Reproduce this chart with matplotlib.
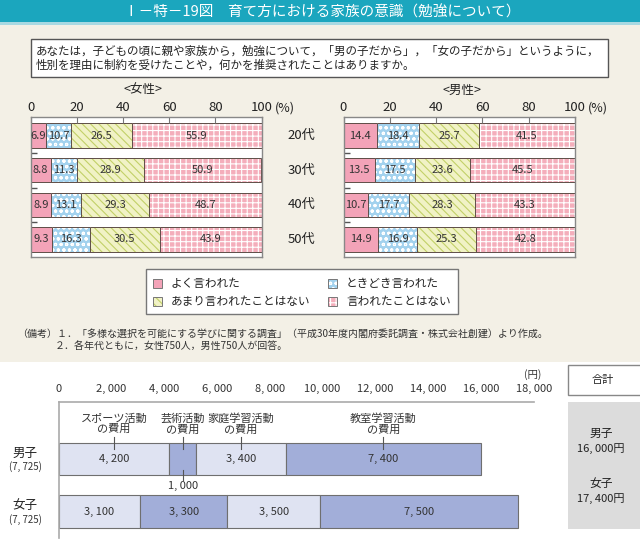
import numpy as np
import matplotlib
matplotlib.use("Agg")
import matplotlib.pyplot as plt
from matplotlib.patches import Rectangle

plt.rcParams['font.family'] = ['Noto Sans CJK JP', 'DejaVu Sans']
plt.rcParams['hatch.linewidth'] = 0.8

# ---- data ----
ages = ['20代', '30代', '40代', '50代']
answers = ['よく言われた', 'ときどき言われた', 'あまり言われたことはない', '言われたことはない']
female_often = [6.9, 8.8, 8.9, 9.3]
female_some = [10.7, 11.3, 13.1, 16.3]
female_rarely = [26.5, 28.9, 29.3, 30.5]
female_never = [55.9, 50.9, 48.7, 43.9]
male_often = [14.4, 13.5, 10.7, 14.9]
male_some = [18.4, 17.5, 17.7, 16.9]
male_rarely = [25.7, 23.6, 28.3, 25.3]
male_never = [41.5, 45.5, 43.3, 42.8]
pct_ticks = [0, 20, 40, 60, 80, 100]

kids = ['男子', '女子']
kids_n = ['(7, 725)', '(7, 725)']
cost_items = ['スポーツ活動\nの費用', '芸術活動\nの費用', '家庭学習活動\nの費用', '教室学習活動\nの費用']
boys_cost = [4200, 1000, 3400, 7400]
girls_cost = [3100, 3300, 3500, 7500]
yen_ticks = [0, 2000, 4000, 6000, 8000, 10000, 12000, 14000, 16000, 18000]

W, H = 640, 550
fig = plt.figure(figsize=(6.4, 5.5), dpi=100)
fig.patch.set_facecolor('white')


def px_axes(x0, y0, x1, y1):
    return fig.add_axes([x0 / W, 1 - y1 / H, (x1 - x0) / W, (y1 - y0) / H])


# background layer in pixel coordinates
bg = fig.add_axes([0, 0, 1, 1])
bg.set_xlim(0, W)
bg.set_ylim(H, 0)
bg.axis('off')
bg.add_patch(Rectangle((0, 22), W, 340, facecolor='#f3f0e6', edgecolor='none'))
bg.add_patch(Rectangle((0, 0), W, 22, facecolor='#1ba6be', edgecolor='none'))
bg.add_patch(Rectangle((0, 22), W, 3, facecolor='#a8d9e2', edgecolor='none'))
bg.text(322, 12, 'Ⅰ－特－19図　育て方における家族の意識（勉強について）',
        color='white', fontsize=10.5, ha='center', va='center')

bg.add_patch(Rectangle((31, 39), 577, 38, facecolor='white', edgecolor='#555555', linewidth=1))
bg.text(36, 51.5, 'あなたは，子どもの頃に親や家族から，勉強について，「男の子だから」，「女の子だから」というように，',
        fontsize=8.3, va='center', color='#222222')
bg.text(36, 65.5, '性別を理由に制約を受けたことや，何かを推奨されたことはありますか。',
        fontsize=8.3, va='center', color='#222222')

bg.text(143, 90, '<女性>', fontsize=9, ha='center', va='center', color='#222222')
bg.text(462, 90, '<男性>', fontsize=9, ha='center', va='center', color='#222222')
bg.text(285, 108, '(%)', fontsize=9, ha='center', va='center', color='#222222')
bg.text(598, 108, '(%)', fontsize=9, ha='center', va='center', color='#222222')

styles = [
    dict(face='#f3a3b8', hatch=None, hc='#f3a3b8'),
    dict(face='#a3d2ee', hatch='ooo', hc='white'),
    dict(face='#f1f2c6', hatch='\\\\\\\\', hc='#c2d068'),
    dict(face='#f4aebb', hatch='+++', hc='white'),
]
edge = '#5e4d47'


def draw_pct(ax, series):
    y = np.arange(len(ages))
    left = np.zeros(len(ages))
    for vals, st in zip(series, styles):
        vals = np.array(vals)
        ax.barh(y, vals, left=left, height=0.7, color=st['face'], hatch=st['hatch'],
                edgecolor=st['hc'], linewidth=0)
        ax.barh(y, vals, left=left, height=0.7, color='none', edgecolor=edge, linewidth=0.7)
        for yi, v, l in zip(y, vals, left):
            ax.text(l + v / 2, yi, f'{v:.1f}', ha='center', va='center', fontsize=8, color='#333333')
        left += vals
    ax.set_xlim(0, 100)
    ax.set_ylim(3.507, -0.536)
    ax.xaxis.tick_top()
    ax.set_xticks(pct_ticks)
    ax.set_xticklabels([str(t) for t in pct_ticks])
    ax.tick_params(axis='x', direction='in', length=4, color='#777777', labelsize=9.5, pad=2,
                   labelcolor='#222222')
    ax.set_yticks([0.5, 1.5, 2.5])
    ax.set_yticklabels([])
    ax.tick_params(axis='y', direction='in', length=4, color='#555555', width=1)
    for s in ax.spines.values():
        s.set_color('#888888')
        s.set_linewidth(1)


ax_f = px_axes(30.5, 117, 261.5, 257)
draw_pct(ax_f, [female_often, female_some, female_rarely, female_never])
ax_m = px_axes(343.5, 117, 575, 257)
draw_pct(ax_m, [male_often, male_some, male_rarely, male_never])
for i, a in enumerate(ages):
    ax_f.annotate(a, xy=(1, i), xycoords=('axes fraction', 'data'), xytext=(29, 0),
                  textcoords='offset points', ha='center', va='center', fontsize=9.5, color='#222222')

# legend
bg.add_patch(Rectangle((146, 269), 312, 45, facecolor='white', edgecolor='#777777', linewidth=1))
leg_pos = [(153, 283), (328, 283), (153, 301), (328, 301)]
for (lx, ly), name, st in zip(leg_pos, answers, styles):
    bg.add_patch(Rectangle((lx, ly - 4.5), 9, 9, facecolor=st['face'], hatch=st['hatch'],
                           edgecolor=st['hc'], linewidth=0))
    bg.add_patch(Rectangle((lx, ly - 4.5), 9, 9, facecolor='none', edgecolor='#777777', linewidth=0.7))
    bg.text(lx + 18, ly, name, fontsize=8.4, va='center', color='#222222')

bg.text(17, 334, '（備考）１．「多様な選択を可能にする学びに関する調査」（平成30年度内閣府委託調査・株式会社創建）より作成。',
        fontsize=7.2, va='center', color='#333333')
bg.text(55, 346, '２．各年代ともに，女性750人，男性750人が回答。', fontsize=7.2, va='center', color='#333333')

# ---- bottom chart ----
ax_c = px_axes(58.5, 402, 533.7, 538)
light, dark = '#dfe3f2', '#a2aed9'
seg_colors = [light, dark, light, dark]
for yi, costs in enumerate([boys_cost, girls_cost]):
    left = 0
    for j, (c, col) in enumerate(zip(costs, seg_colors)):
        ax_c.barh(yi, c, left=left, height=0.61, color=col, edgecolor='#6f6f6f', linewidth=0.8)
        if yi == 0 and j == 1:
            ax_c.plot([left + c / 2] * 2, [0.21, 0.40], color='#555555', lw=0.8)
            ax_c.text(left + c / 2, 0.52, f'{c:,}'.replace(',', ', '), ha='center', va='center',
                      fontsize=8, color='#333333')
        else:
            ax_c.text(left + c / 2, yi, f'{c:,}'.replace(',', ', '), ha='center', va='center',
                      fontsize=8, color='#333333')
        if yi == 0:
            ax_c.plot([left + c / 2] * 2, [-0.42, -0.19], color='#555555', lw=0.8)
            ax_c.text(left + c / 2, -0.67, cost_items[j], ha='center', va='center', fontsize=8,
                      color='#333333', linespacing=1.05)
        left += c
ax_c.set_xlim(0, 18000)
ax_c.set_ylim(1.505, -1.086)
ax_c.set_facecolor('none')
ax_c.xaxis.tick_top()
ax_c.set_xticks(yen_ticks)
ax_c.set_xticklabels([f'{t:,}'.replace(',', ', ') for t in yen_ticks])
ax_c.tick_params(axis='x', length=0, labelsize=8, pad=6, labelcolor='#333333')
ax_c.set_yticks([])
for side in ['right', 'bottom']:
    ax_c.spines[side].set_visible(False)
for side in ['top', 'left']:
    ax_c.spines[side].set_color('#aaaaaa')
    ax_c.spines[side].set_linewidth(1.2)
for i, (k, n) in enumerate(zip(kids, kids_n)):
    ax_c.annotate(k, xy=(0, i), xycoords=('axes fraction', 'data'), xytext=(-24, 4),
                  textcoords='offset points', ha='center', va='center', fontsize=9, color='#222222')
    ax_c.annotate(n, xy=(0, i), xycoords=('axes fraction', 'data'), xytext=(-24, -5.5),
                  textcoords='offset points', ha='center', va='center', fontsize=7, color='#333333')

bg.text(533, 375, '(円)', fontsize=7.5, ha='center', va='center', color='#333333')
bg.add_patch(Rectangle((568, 365), 75, 30, facecolor='white', edgecolor='#888888', linewidth=1))
bg.text(603, 380, '合計', fontsize=8, ha='center', va='center', color='#222222')
bg.add_patch(Rectangle((568, 402), 75, 127, facecolor='#dcdcdc', edgecolor='none'))
totals = [sum(boys_cost), sum(girls_cost)]
for k, t, ty in zip(kids, totals, [433, 483]):
    bg.text(601, ty, k, fontsize=8.5, ha='center', va='center', color='#222222')
    bg.text(601, ty + 16, f'{t:,}'.replace(',', ', ') + '円', fontsize=8, ha='center', va='center',
            color='#222222')

fig.savefig('out.png', dpi=100, facecolor=fig.get_facecolor())
